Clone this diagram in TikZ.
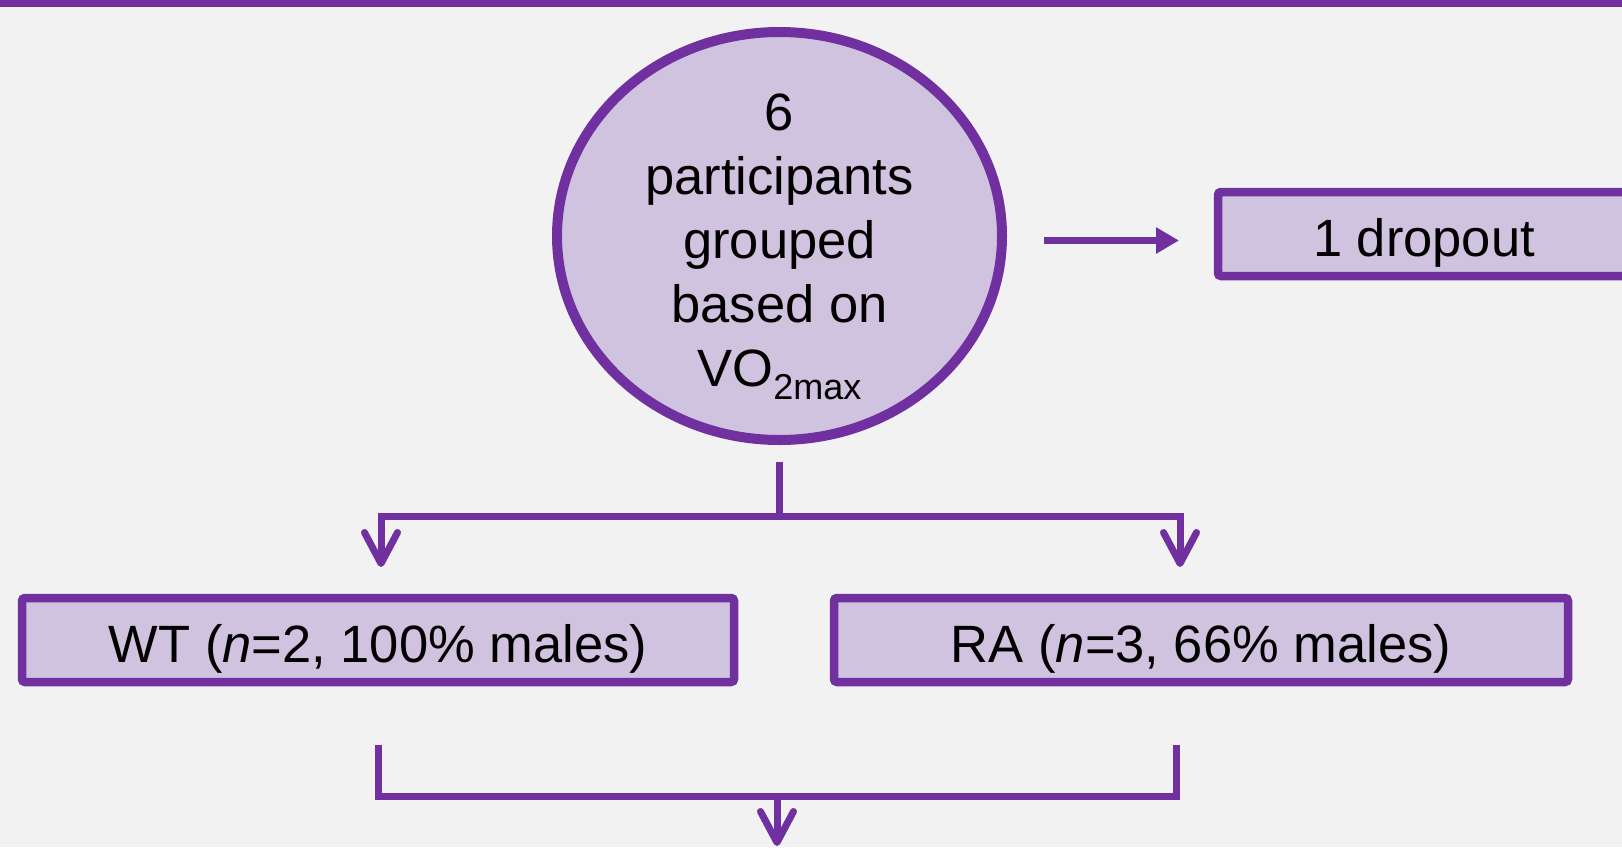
\documentclass[tikz,border=0pt]{standalone}
\usepackage{fontspec}
\setmainfont{Liberation Sans}
\usepackage{tikz}
\usetikzlibrary{shapes.geometric,arrows.meta,positioning}
\definecolor{grape}{HTML}{7030A0}
\definecolor{lilac}{HTML}{D0C3DF}
\definecolor{paper}{HTML}{F2F2F2}

\begin{document}
\begin{tikzpicture}[x=1pt,y=-1pt,
  grp/.style={draw=grape,fill=lilac,line width=8.5pt,rounded corners=3pt,outer sep=0pt,inner sep=0pt,
    minimum height=84pt,text height=44pt,text depth=0pt,font=\fontsize{52.5}{64}\selectfont},
  conn/.style={draw=grape,line width=7pt},
  barb/.style={-{Straight Barb[length=31pt,width=33pt,line width=7pt,round]}}]
\useasboundingbox (0,0) rectangle (1622,847);
\clip (0,0) rectangle (1622,847);
\fill[paper] (0,0) rectangle (1622,847);
\fill[grape] (0,0) rectangle (1622,7);

\node[ellipse,draw=grape,fill=lilac,line width=10pt,outer sep=0pt,minimum width=445pt,minimum height=408pt] (pool) at (779.5,236) {};
\node[align=center,inner sep=0pt,font=\fontsize{52.5}{64}\selectfont] (pooltxt) at ([yshift=-11pt]pool.center)
  {6\\participants\\grouped\\based on\\VO\raisebox{-13pt}{\fontsize{36}{36}\selectfont 2max}};

\node[grp,minimum width=412pt] (drop) at (1424,234) {1 dropout};
\foreach \nm/\cx/\w/\txt in {wt/378/712/{WT (\textit{n}=2, 100\% males)},ra/1201/734/{RA (\textit{n}=3, 66\% males)}}{
  \node[grp,minimum width=\w pt] (\nm) at (\cx,640) {\txt};
}

\draw[conn,-{Triangle[length=23pt,width=25pt]}] ([xshift=42pt,yshift=-4.5pt]pool.east) -- ([xshift=-39pt,yshift=-6.5pt]drop.west);

% split into the two groups
\draw[conn] ([yshift=-21.5pt]pool.south) -- ++(0,54.5) coordinate (fork);
\foreach \nm/\dx in {wt/3,ra/-21}
  \draw[conn,barb] (fork) -| ([xshift=\dx pt,yshift=31pt]\nm.north);

% merge below
\draw[conn] ([yshift=-63pt]wt.south) |- ([xshift=-25pt,yshift=-114pt]ra.south) -- ([xshift=-25pt,yshift=-63pt]ra.south);
\coordinate (merge) at (777,796);
\draw[conn,barb] (merge) -- ++(0,50);
\end{tikzpicture}
\end{document}
